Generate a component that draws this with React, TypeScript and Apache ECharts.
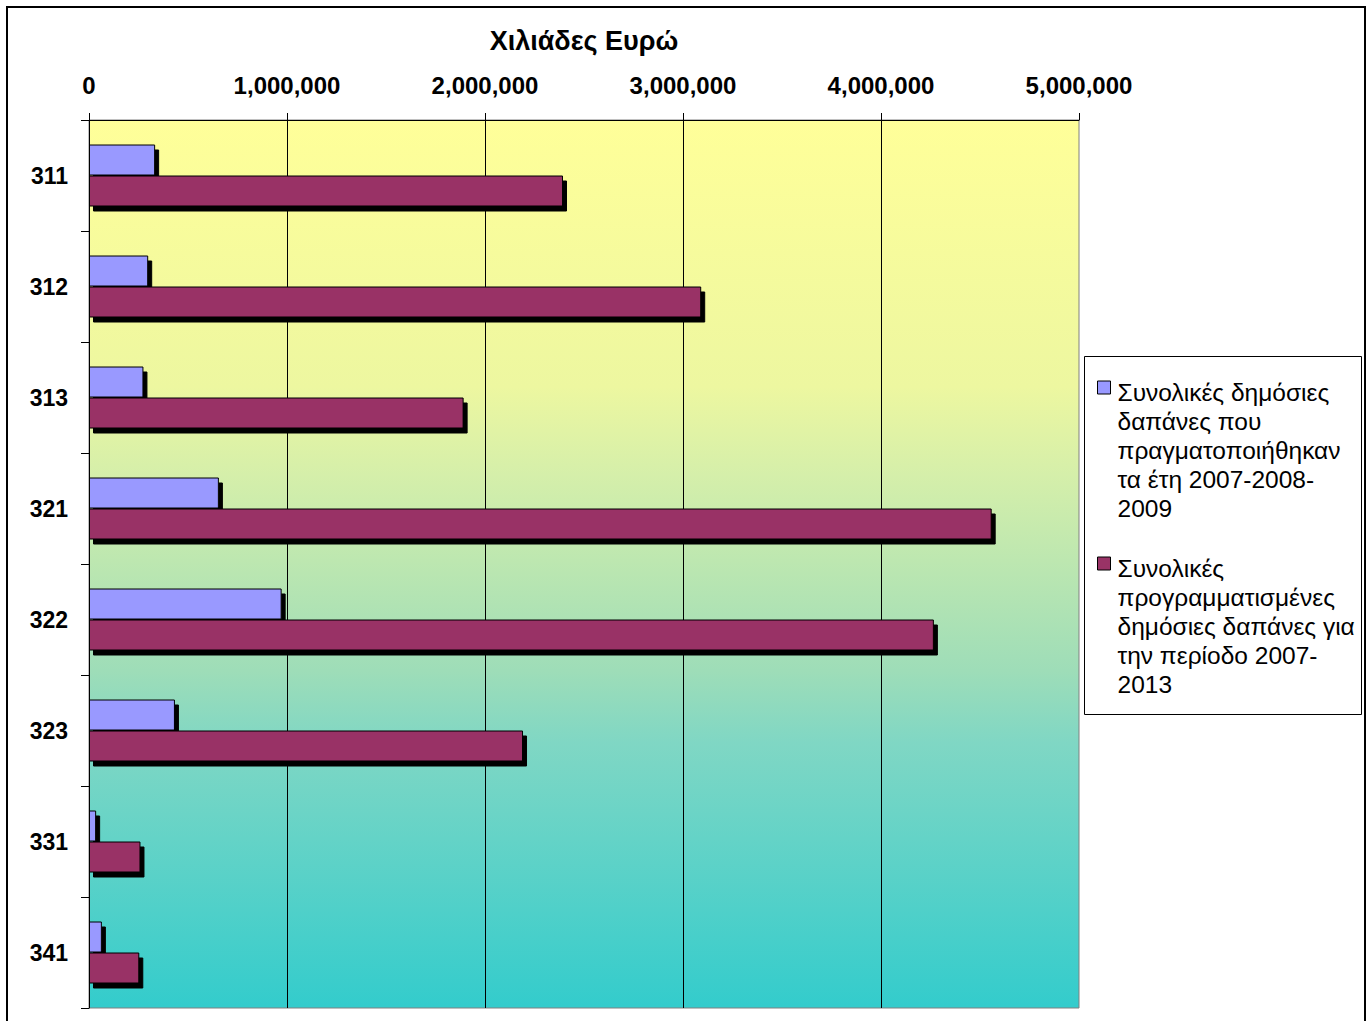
import React, { useEffect, useRef } from 'react';
import * as echarts from 'echarts';

const categories = ['311', '312', '313', '321', '322', '323', '331', '341'];
const spentValues = [334000, 299000, 275000, 656000, 973000, 434000, 36000, 65000];
const plannedValues = [2394000, 3092000, 1892000, 4559000, 4267000, 2192000, 260000, 254000];
const seriesNames = [
  'Συνολικές δημόσιες δαπάνες που πραγματοποιήθηκαν τα έτη 2007-2008-2009',
  'Συνολικές προγραμματισμένες δημόσιες δαπάνες για την περίοδο 2007-2013',
];
const legendLines = [
  ['Συνολικές δημόσιες', 'δαπάνες που', 'πραγματοποιήθηκαν', 'τα έτη 2007-2008-', '2009'],
  ['Συνολικές', 'προγραμματισμένες', 'δημόσιες δαπάνες για', 'την περίοδο 2007-', '2013'],
];
const axisTitle = 'Χιλιάδες Ευρώ';
const axisMin = 0;
const axisMax = 5000000;
const axisInterval = 1000000;

const FONT = 'Arial, Liberation Sans, sans-serif';

export default function App() {
  const ref = useRef<HTMLDivElement>(null);
  useEffect(() => {
    if (!ref.current) return;
    const chart = echarts.init(ref.current, undefined, { renderer: 'svg' });
    const LH = 29;
    const itemH = LH * 5;
    const barStyle = (color: string) => ({
      color,
      borderColor: '#000',
      borderWidth: 1,
      shadowColor: '#000',
      shadowBlur: 0,
      shadowOffsetX: 4,
      shadowOffsetY: 5,
    });
    chart.setOption({
      animation: false,
      backgroundColor: '#fff',
      title: {
        text: axisTitle,
        left: 576,
        top: 19,
        padding: 0,
        textAlign: 'center',
        textStyle: { fontFamily: FONT, fontSize: 27, fontWeight: 'bold', color: '#000' },
      },
      grid: {
        left: 81,
        top: 112,
        right: 285,
        bottom: 36,
        show: true,
        outerBoundsMode: 'none',
        borderColor: '#808080',
        borderWidth: 1,
        backgroundColor: {
          type: 'linear',
          x: 0, y: 0, x2: 0, y2: 1,
          colorStops: [
            { offset: 0, color: '#FFFF99' },
            { offset: 0.3, color: '#EDF7A0' },
            { offset: 0.4, color: '#D5EFAA' },
            { offset: 0.62, color: '#9EDDB8' },
            { offset: 0.7, color: '#80D7C4' },
            { offset: 1, color: '#33CCCC' },
          ],
        },
      },
      legend: {
        orient: 'vertical',
        left: 1089,
        top: 369.5,
        padding: 0,
        itemGap: 30,
        itemWidth: 15,
        itemHeight: itemH,
        icon: 'path://M0,3h13v13h-13zM0,0M15,' + itemH,
        itemStyle: { borderColor: '#000', borderWidth: 1, shadowOffsetX: 0, shadowOffsetY: 0 },
        data: seriesNames,
        formatter: (name: string) => legendLines[seriesNames.indexOf(name)].join('\n'),
        textStyle: { fontFamily: FONT, fontSize: 24.5, lineHeight: LH, color: '#000' },
        selectedMode: false,
      },
      graphic: [
        {
          type: 'rect',
          z: -1,
          shape: { x: 1076.5, y: 348.5, width: 277, height: 358 },
          style: { fill: '#fff', stroke: '#000', lineWidth: 1 },
        },
      ],
      xAxis: {
        type: 'value',
        position: 'top',
        min: axisMin,
        max: axisMax,
        interval: axisInterval,
        axisLine: { show: true, lineStyle: { color: '#000', width: 1 } },
        axisTick: { show: true, length: 7, lineStyle: { color: '#000' } },
        axisLabel: {
          margin: 23,
          fontFamily: FONT,
          fontSize: 24,
          fontWeight: 'bold',
          color: '#000',
          formatter: (v: number) => v.toLocaleString('en-US'),
        },
        splitLine: { show: true, showMinLine: false, showMaxLine: false, lineStyle: { color: '#000', width: 1 } },
      },
      yAxis: {
        type: 'category',
        inverse: true,
        data: categories,
        axisLine: { show: true, lineStyle: { color: '#000', width: 1 } },
        axisTick: { show: true, length: 8, lineStyle: { color: '#000' } },
        axisLabel: {
          margin: 21,
          fontFamily: FONT,
          fontSize: 23,
          fontWeight: 'bold',
          color: '#000',
        },
        splitLine: { show: false },
      },
      series: [
        {
          name: seriesNames[0],
          type: 'bar',
          data: spentValues,
          barWidth: 31,
          barGap: '0%',
          itemStyle: barStyle('#9999FF'),
          emphasis: { disabled: true },
        },
        {
          name: seriesNames[1],
          type: 'bar',
          data: plannedValues,
          barWidth: 31,
          barGap: '0%',
          itemStyle: barStyle('#993366'),
          emphasis: { disabled: true },
        },
      ],
    });
    return () => chart.dispose();
  }, []);
  return (
    <div
      style={{
        position: 'fixed',
        left: 6,
        top: 6,
        width: 1360,
        height: 1040,
        border: '2px solid #000',
        boxSizing: 'border-box',
        background: '#fff',
      }}
    >
      <div ref={ref} style={{ width: '100%', height: '100%' }} />
    </div>
  );
}
